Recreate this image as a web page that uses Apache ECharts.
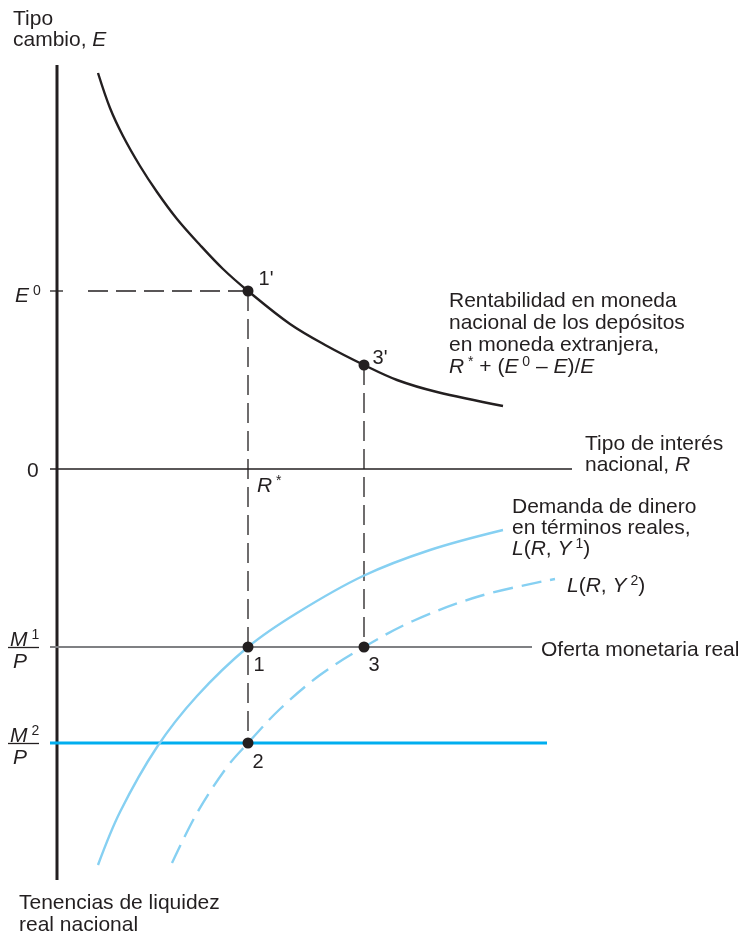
<!DOCTYPE html>
<html>
<head>
<meta charset="utf-8">
<script src="https://cdn.jsdelivr.net/npm/echarts@6/dist/echarts.min.js"></script>
<style>
  html, body { margin: 0; padding: 0; background: #fff; }
  #chart { width: 752px; height: 934px; }
</style>
</head>
<body>
<div id="chart"></div>
<script>
// diagram units: x = tipo de interés R, y > 0 tipo de cambio E, y < 0 liquidez real
const rStar = 191;
const rThree = 307;
const e0 = 178;
const eThree = 104;
const m1Level = -178;
const m2Level = -274;
const axisTop = 404;
const axisBottom = -411;
const tickStart = -7;
const zeroEnd = 515;
const m1End = 475;
const m2End = 490;
const e0DashStart = 31;

const returnCurve = [[41, 396], [53, 361], [66, 333], [83, 303], [100, 277], [120, 250], [143, 224], [166, 200], [191, 178], [233, 145], [270, 123], [307, 104], [340, 89], [380, 77], [446, 63]];
const demandY1 = [[41, -396], [63, -343], [100, -278], [140, -227], [191, -178], [240, -144], [306, -107], [373, -81], [446, -61]];
const demandY2 = [[115, -394], [140, -344], [170, -298], [191, -274], [223, -240], [263, -206], [307, -178], [356, -152], [423, -127], [498, -110]];
const eqPoints = [[rStar, e0, "1'"], [rThree, eThree, "3'"], [rStar, m1Level, "1"], [rStar, m2Level, "2"], [rThree, m1Level, "3"]];
const labelOffsets = { "1'": [18, -12], "3'": [16, -7], "1": [11, 18], "2": [10, 19], "3": [10, 18] };

const ink = "#231f20";
const font = "'Liberation Sans', Arial, sans-serif";

function seg(points, color, width, type, z) {
  return {
    type: "line",
    data: points,
    symbol: "none",
    silent: true,
    z: z || 2,
    lineStyle: { color: color, width: width, type: type || "solid" }
  };
}

function curve(points, color, type) {
  return {
    type: "line",
    data: points,
    smooth: 0.35,
    symbol: "none",
    silent: true,
    z: 3,
    lineStyle: { color: color, width: 2.4, type: type || "solid" }
  };
}

const rich = {
  i: { fontStyle: "italic", fontSize: 21, fontFamily: font, fill: ink },
  sup: { fontSize: 14, fontFamily: font, fill: ink, padding: [0, 0, 10, 0] }
};

function txt(x, y, text, lh, size) {
  return {
    type: "text",
    x: x,
    y: y,
    silent: true,
    style: {
      text: text,
      fontSize: size || 21,
      fontFamily: font,
      fill: ink,
      lineHeight: lh || 22,
      verticalAlign: "top",
      rich: rich
    }
  };
}

let chart = echarts.init(document.getElementById("chart"));
chart.setOption({
  animation: false,
  grid: { left: 0, right: 0, top: 0, bottom: 0 },
  xAxis: { type: "value", min: -57, max: 695, show: false },
  yAxis: { type: "value", min: -465, max: 469, show: false },
  series: [
    seg([[0, axisTop], [0, axisBottom]], ink, 3),
    seg([[tickStart, 0], [zeroEnd, 0]], ink, 1.3),
    seg([[tickStart, e0], [6, e0]], ink, 1.3),
    seg([[e0DashStart, e0], [rStar, e0]], ink, 1.3, [20, 8]),
    seg([[rStar, e0], [rStar, m2Level]], ink, 1.3, [20, 8]),
    seg([[rThree, eThree], [rThree, m1Level]], ink, 1.3, [20, 8]),
    seg([[tickStart, m1Level], [m1End, m1Level]], "#7f8083", 2.2),
    seg([[tickStart, m2Level], [m2End, m2Level]], "#00aeef", 2.8),
    curve(returnCurve, ink),
    curve(demandY1, "#86d0f2"),
    curve(demandY2, "#86d0f2", [20, 9]),
    {
      type: "scatter",
      z: 5,
      silent: true,
      symbolSize: 11,
      itemStyle: { color: ink, opacity: 1 },
      data: eqPoints.map(p => ({
        value: [p[0], p[1]],
        label: { offset: labelOffsets[p[2]] }
      })),
      label: {
        show: true,
        position: "inside",
        color: ink,
        opacity: 1,
        fontSize: 20,
        fontFamily: font,
        formatter: params => eqPoints[params.dataIndex][2]
      }
    }
  ],
  graphic: [
    txt(13, 9, "Tipo\ncambio, {i|E}", 21),
    txt(15, 285, "{i|E}{sup| 0}"),
    txt(27, 460, "0"),
    txt(257, 475, "{i|R}{sup| *}"),
    txt(449, 290, "Rentabilidad en moneda\nnacional de los depósitos\nen moneda extranjera,\n{i|R}{sup| *} + ({i|E}{sup| 0} – {i|E})/{i|E}", 22),
    txt(585, 434, "Tipo de interés\nnacional, {i|R}", 21),
    txt(512, 497, "Demanda de dinero\nen términos reales,\n{i|L}({i|R}, {i|Y}{sup| 1})", 21),
    txt(567, 575, "{i|L}({i|R}, {i|Y}{sup| 2})"),
    txt(541, 639, "Oferta monetaria real"),
    txt(19, 892, "Tenencias de liquidez\nreal nacional", 22),
    txt(10, 629, "{i|M}{sup| 1}"),
    { type: "line", silent: true, shape: { x1: 8, y1: 647.5, x2: 39, y2: 647.5 }, style: { stroke: ink, lineWidth: 1.3 } },
    txt(13, 651, "{i|P}"),
    txt(10, 725, "{i|M}{sup| 2}"),
    { type: "line", silent: true, shape: { x1: 8, y1: 743.5, x2: 39, y2: 743.5 }, style: { stroke: ink, lineWidth: 1.3 } },
    txt(13, 747, "{i|P}")
  ]
});
</script>
</body>
</html>
